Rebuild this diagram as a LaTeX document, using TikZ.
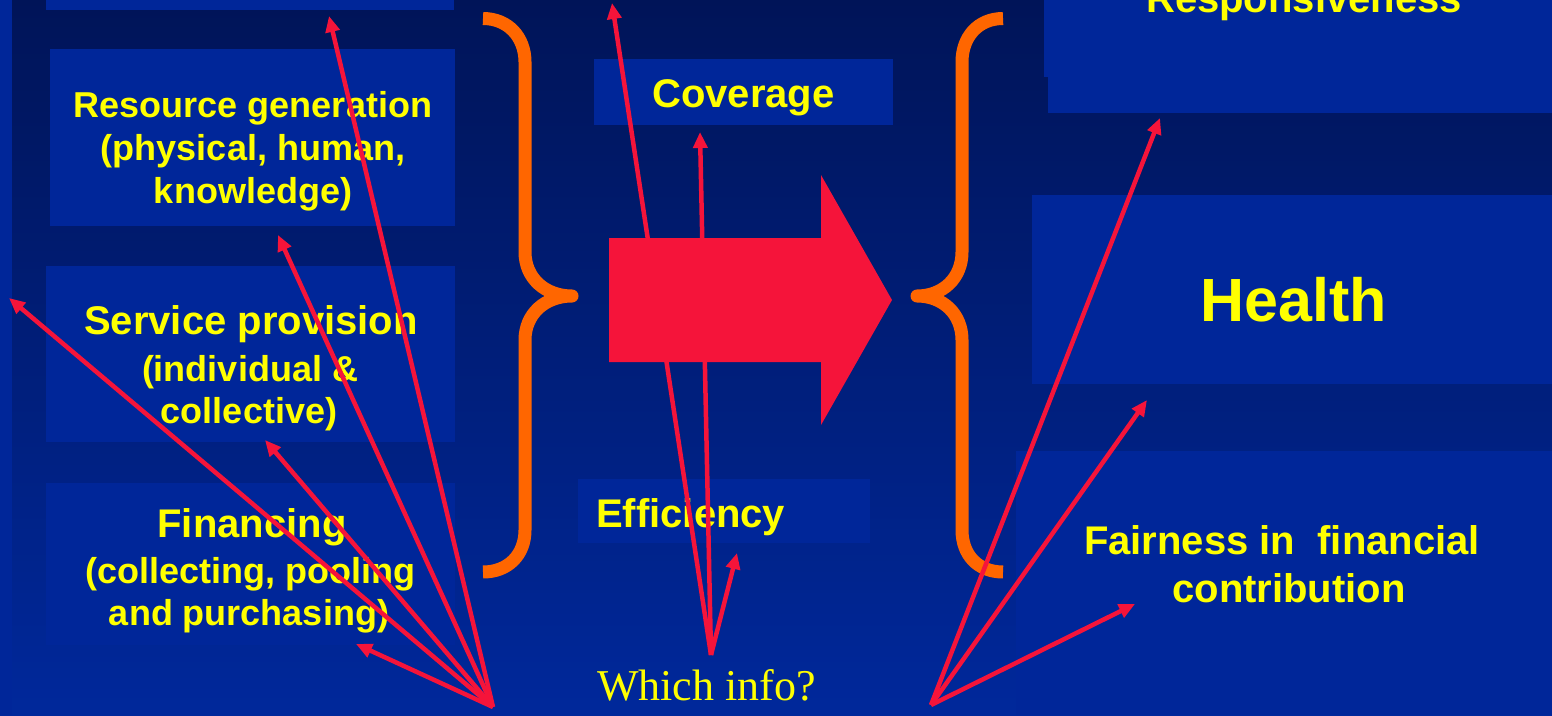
\documentclass[tikz,border=0pt]{standalone}
\usepackage{fontspec}
\setmainfont{Liberation Sans}
\newfontfamily\timesfont{Liberation Serif}
\usetikzlibrary{arrows.meta}
\definecolor{bgtop}{RGB}{0,20,88}
\definecolor{bgbot}{RGB}{0,40,155}
\definecolor{boxblue}{RGB}{0,38,153}
\definecolor{txtyellow}{RGB}{255,255,0}
\definecolor{braceorange}{RGB}{255,102,0}
\definecolor{arrred}{RGB}{245,20,58}
\tikzset{
  panel/.style={fill=boxblue},
  lbl/.style={text=txtyellow, font=\bfseries\fontsize{36}{43}\selectfont, inner sep=0pt, anchor=base},
  biglbl/.style={lbl, font=\bfseries\fontsize{40}{48}\selectfont},
  hugelbl/.style={lbl, font=\bfseries\fontsize{61}{70}\selectfont},
  serlbl/.style={lbl, font=\timesfont\fontsize{44}{52}\selectfont},
  bracestroke/.style={draw=braceorange, line width=13pt, line join=round},
  infoarrow/.style={draw=arrred, line width=4.5pt, -{Triangle[length=16pt,width=14pt]}},
}
\begin{document}
\begin{tikzpicture}[x=1pt,y=-1pt]
\useasboundingbox (0,0) rectangle (1552,715);
\clip (0,0) rectangle (1552,715);
% background
\shade[top color=bgtop, bottom color=bgbot] (0,0) rectangle (1552,715);
% panels
\fill[panel] (0,0) rectangle (12,715);
\fill[panel] (46,-5) rectangle (454,10);
\fill[panel] (50,49) rectangle (455,226);
\fill[panel] (46,266) rectangle (455,442);
\fill[panel] (46,483) rectangle (455,645);
\fill[panel] (594,59) rectangle (893,125);
\fill[panel] (578,479) rectangle (870,543);
\fill[panel] (1044,-5) rectangle (1552,77);
\fill[panel] (1048,76) rectangle (1552,113);
\fill[panel] (1032,195) rectangle (1552,384);
\fill[panel] (1016,451) rectangle (1552,715);
% braces
\draw[bracestroke] (483,18.5) .. controls (508,18.5) and (525,37) .. (525,62) -- (525,252)
  .. controls (525,278) and (545,296) .. (572,296)
  .. controls (545,296) and (525,314) .. (525,340) -- (525,530)
  .. controls (525,555) and (508,572) .. (483,572);
\draw[bracestroke] (1003,18.5) .. controls (978,18.5) and (962,37) .. (962,62) -- (962,252)
  .. controls (962,278) and (943,296) .. (917,296)
  .. controls (943,296) and (962,314) .. (962,340) -- (962,530)
  .. controls (962,555) and (978,572) .. (1003,572);
% block arrow
\fill[arrred] (609,238) -- (821,238) -- (821,175) -- (892,300) -- (821,425) -- (821,362) -- (609,362) -- cycle;
% texts
\node[lbl] (rg1) at (253,117) {Resource generation};
\node[lbl] (rg2) at (253,160) {(physical, human,};
\node[lbl] (rg3) at (253,203) {knowledge)};
\node[biglbl] (sp1) at (251,334) {Service provision};
\node[lbl] (sp2) at (250,381) {(individual \&};
\node[lbl] (sp3) at (249,423) {collective)};
\node[biglbl] (fi1) at (252,537) {Financing};
\node[lbl] (fi2) at (250,583) {(collecting, pooling};
\node[lbl] (fi3) at (249,625) {and purchasing)};
\node[biglbl] (cov) at (743.5,107) {Coverage};
\node[biglbl, anchor=base west] (eff) at (596,527) {Efficiency};
\node[serlbl] (which) at (706.5,700) {Which info?};
\node[hugelbl] (health) at (1293.5,321) {Health};
\node[biglbl] (fair1) at (1282,554) {Fairness in\ \ financial};
\node[biglbl] (fair2) at (1289,602) {contribution};
\node[biglbl] (resp) at (1304,12) {Responsiveness};
% arrow origins and tips
\coordinate (oA) at (493,707);
\coordinate (oB) at (711,655);
\coordinate (oC) at (931,705);
\coordinate (tA1) at (329,16);
\coordinate (tA2) at (278,235);
\coordinate (tA3) at (9,298);
\coordinate (tA4) at (265,440);
\coordinate (tA5) at (356,644);
\coordinate (tB1) at (612,3);
\coordinate (tB2) at (700,132);
\coordinate (tB3) at (737,553);
\coordinate (tC1) at (1160,118);
\coordinate (tC2) at (1147,400);
\coordinate (tC3) at (1135,604);
\foreach \t in {tA1,tA2,tA3,tA4,tA5} \draw[infoarrow] (oA) -- (\t);
\foreach \t in {tB1,tB2,tB3} \draw[infoarrow] (oB) -- (\t);
\foreach \t in {tC1,tC2,tC3} \draw[infoarrow] (oC) -- (\t);
\end{tikzpicture}
\end{document}
